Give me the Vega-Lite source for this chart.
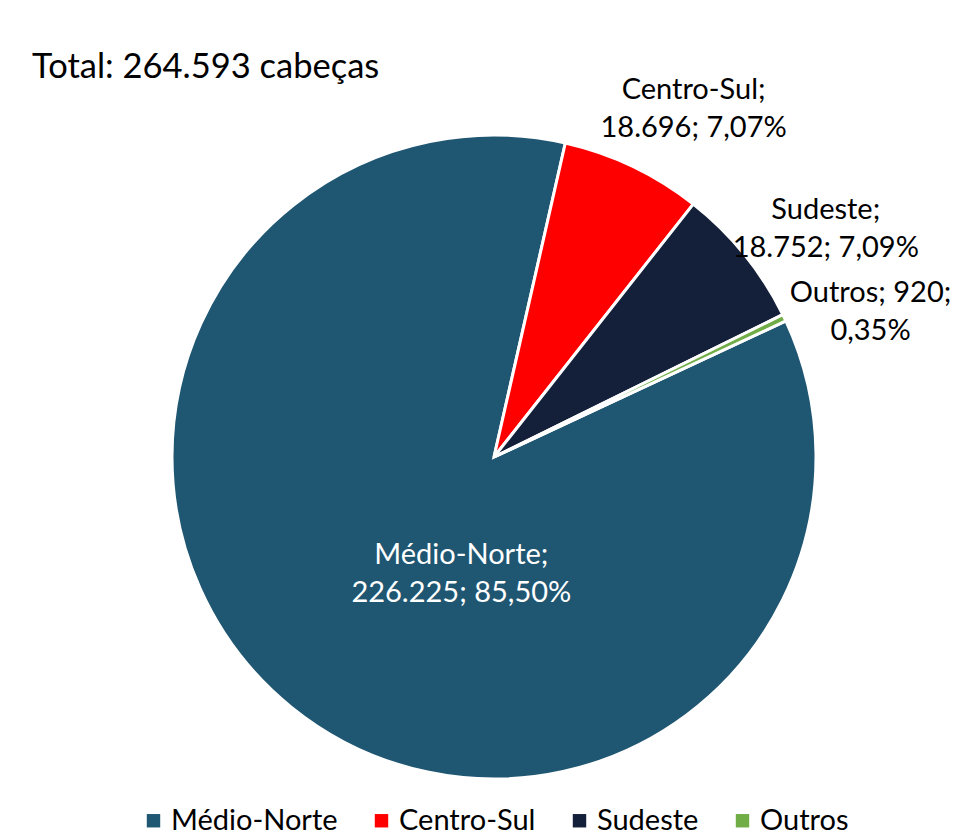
{
  "$schema": "https://vega.github.io/schema/vega-lite/v6.json",
  "width": 957,
  "height": 747,
  "autosize": "none",
  "padding": {"top": 90, "left": 0, "right": 0, "bottom": 0},
  "background": "white",
  "config": {"view": {"stroke": null}, "font": "Lato"},
  "title": {
    "text": "Total: 264.593 cabeças",
    "anchor": "start",
    "frame": "group",
    "dx": 32,
    "offset": -37,
    "baseline": "alphabetic",
    "font": "Lato",
    "fontSize": 34.5,
    "fontWeight": "normal",
    "color": "black"
  },
  "data": {
    "values": [
      {"region": "Médio-Norte", "value": 226225, "ord": 1, "label": ["Médio-Norte;", "226.225; 85,50%"]},
      {"region": "Centro-Sul", "value": 18696, "ord": 2, "label": ["Centro-Sul;", "18.696; 7,07%"]},
      {"region": "Sudeste", "value": 18752, "ord": 3, "label": ["Sudeste;", "18.752; 7,09%"]},
      {"region": "Outros", "value": 920, "ord": 4, "label": ["Outros; 920;", "0,35%"]}
    ]
  },
  "layer": [
    {
      "mark": {"type": "arc", "x": 494, "y": 367, "outerRadius": 322, "stroke": "white", "strokeWidth": 3},
      "encoding": {
        "theta": {"field": "value", "type": "quantitative", "stack": true, "scale": {"range": [1.1345, 7.4177]}},
        "order": {"field": "ord", "type": "quantitative"},
        "color": {
          "field": "region",
          "type": "nominal",
          "scale": {"domain": ["Médio-Norte", "Centro-Sul", "Sudeste", "Outros"], "range": ["#1F5672", "#FF0000", "#141F3A", "#70AD47"]},
          "legend": {
            "title": null,
            "orient": "none",
            "direction": "horizontal",
            "legendX": 139,
            "legendY": 716,
            "symbolType": "square",
            "symbolSize": 180,
            "symbolStrokeWidth": 0,
            "labelFont": "Lato",
            "labelFontSize": 29,
            "labelColor": "black",
            "columnPadding": 29,
            "labelOffset": 3,
            "labelLimit": 400
          }
        }
      }
    },
    {
      "mark": {"type": "text", "x": 494, "y": 367, "radius": 405, "dy": -15, "font": "Lato", "fontSize": 29, "lineHeight": 38, "align": "center", "baseline": "middle", "color": "black"},
      "encoding": {
        "theta": {"field": "value", "type": "quantitative", "stack": true, "scale": {"range": [1.2045, 7.4877]}},
        "order": {"field": "ord", "type": "quantitative"},
        "detail": {"field": "region", "type": "nominal"},
        "text": {"condition": {"test": "datum.region === 'Médio-Norte'", "value": ""}, "field": "label"}
      }
    },
    {
      "mark": {"type": "text", "x": 494, "y": 367, "radius": 117, "dx": 47, "dy": 12, "font": "Lato", "fontSize": 29, "lineHeight": 38, "align": "center", "baseline": "middle", "color": "white"},
      "encoding": {
        "theta": {"field": "value", "type": "quantitative", "stack": true, "scale": {"range": [1.2045, 7.4877]}},
        "order": {"field": "ord", "type": "quantitative"},
        "detail": {"field": "region", "type": "nominal"},
        "text": {"condition": {"test": "datum.region !== 'Médio-Norte'", "value": ""}, "field": "label"}
      }
    }
  ],
  "resolve": {"scale": {"theta": "independent"}}
}
